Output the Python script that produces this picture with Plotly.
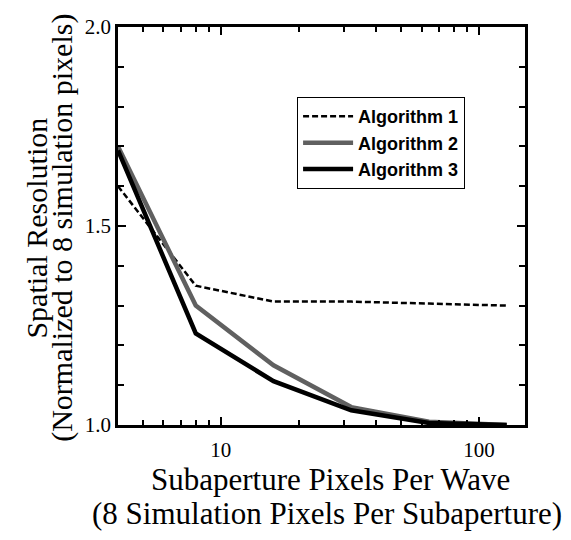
import plotly.graph_objects as go

x_vals = [4, 8, 16, 32, 64, 128]
alg1 = [1.60, 1.35, 1.31, 1.31, 1.305, 1.30]
alg2 = [1.70, 1.30, 1.15, 1.045, 1.008, 1.0]
alg3 = [1.69, 1.23, 1.11, 1.037, 1.005, 1.0]
names = ["Algorithm 1", "Algorithm 2", "Algorithm 3"]
y_tick_vals = [1.0, 1.5, 2.0]
y_tick_text = ["1.0", "1.5", "2.0"]
x_tick_vals = [10, 100]
x_tick_text = ["10", "100"]
x_title = ["Subaperture Pixels Per Wave", "(8 Simulation Pixels Per Subaperture)"]
y_title = ["Spatial Resolution", "(Normalized to 8 simulation pixels)"]

fig = go.Figure()
fig.add_trace(go.Scatter(x=x_vals, y=alg1, mode="lines", name=names[0],
                         line=dict(color="black", width=2.5, dash="6px,3px")))
fig.add_trace(go.Scatter(x=x_vals, y=alg2, mode="lines", name=names[1],
                         line=dict(color="#606060", width=4.5)))
fig.add_trace(go.Scatter(x=x_vals, y=alg3, mode="lines", name=names[2],
                         line=dict(color="black", width=4.5)))

serif = "Liberation Serif, Times New Roman, serif"
tfont = dict(family=serif, size=31, color="black")
yfont = dict(family=serif, size=30, color="black")

annotations = [
    dict(text=x_title[0], xref="paper", yref="paper", x=0.523, y=-0.1357,
         xanchor="center", yanchor="middle", showarrow=False, font=tfont),
    dict(text=x_title[1], xref="paper", yref="paper", x=0.5135, y=-0.2236,
         xanchor="center", yanchor="middle", showarrow=False, font=tfont),
    dict(text=y_title[0], xref="paper", yref="paper", x=-0.2, y=0.495,
         xanchor="center", yanchor="middle", showarrow=False, font=yfont,
         textangle=-90),
    dict(text=y_title[1], xref="paper", yref="paper", x=-0.138, y=0.495,
         xanchor="center", yanchor="middle", showarrow=False, font=yfont,
         textangle=-90),
]

# page body has an 8px margin, so the figure is 8px smaller than the window
fig.update_layout(
    width=563, height=532,
    margin=dict(l=110, r=46, t=19, b=115, autoexpand=False),
    paper_bgcolor="white", plot_bgcolor="white",
    font=dict(family=serif, color="black"),
    showlegend=True,
    legend=dict(x=0.44, y=0.824, xanchor="left", yanchor="top",
                bordercolor="black", borderwidth=1, bgcolor="white",
                font=dict(family="Liberation Sans, Arial, sans-serif", size=18,
                          color="black", weight="bold"),
                tracegroupgap=0, itemwidth=50),
    annotations=annotations,
    xaxis=dict(
        type="log", range=[0.602, 2.178], automargin=False,
        tickvals=x_tick_vals, ticktext=x_tick_text,
        ticks="inside", ticklen=8, tickwidth=1.5, tickcolor="black",
        minor=dict(tickvals=[5, 6, 7, 8, 9, 20, 30, 40, 50, 60, 70, 80, 90],
                   ticks="inside", ticklen=5, tickwidth=1.5, tickcolor="black"),
        showline=True, linewidth=2.5, linecolor="black", mirror="allticks",
        showgrid=False, zeroline=False, ticklabelstandoff=4,
        tickfont=dict(family=serif, size=21),
    ),
    yaxis=dict(
        range=[1.0, 2.0], automargin=False,
        tickvals=y_tick_vals, ticktext=y_tick_text,
        ticks="inside", ticklen=8, tickwidth=1.5, tickcolor="black",
        minor=dict(tickvals=[1.1, 1.2, 1.3, 1.4, 1.6, 1.7, 1.8, 1.9],
                   ticks="inside", ticklen=6, tickwidth=1.5, tickcolor="black"),
        showline=True, linewidth=2.5, linecolor="black", mirror="allticks",
        showgrid=False, zeroline=False,
        tickfont=dict(family=serif, size=21),
    ),
)

fig.write_html("out.html")
